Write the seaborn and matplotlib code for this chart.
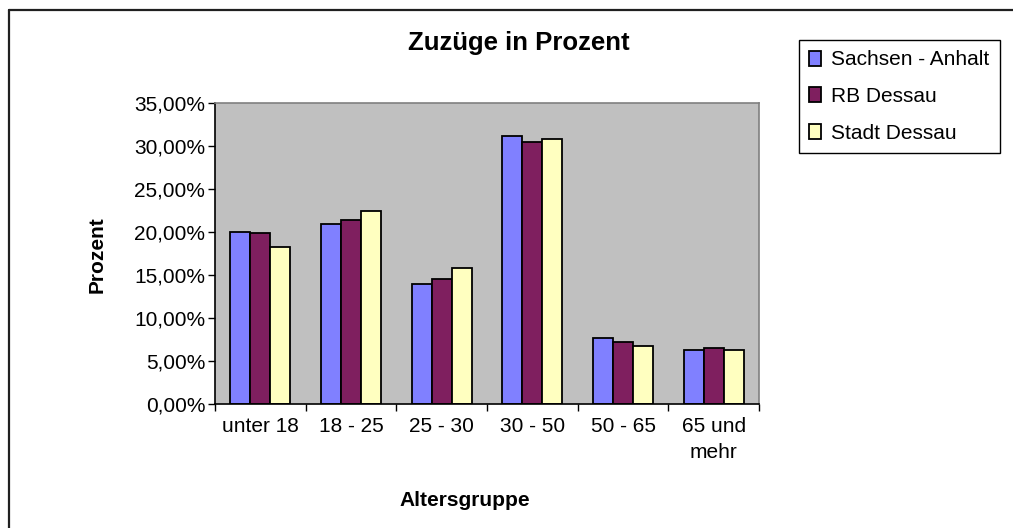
import matplotlib
matplotlib.use('Agg')
import matplotlib.pyplot as plt
import matplotlib.ticker as mticker
from matplotlib.lines import Line2D
import seaborn as sns
import pandas as pd
import numpy as np

# Daten: Zuzuege nach Altersgruppe (Prozent)
groups = ['unter 18', '18 - 25', '25 - 30', '30 - 50', '50 - 65', '65 und\nmehr']
series = ['Sachsen - Anhalt', 'RB Dessau', 'Stadt Dessau']
sachsen_anhalt = [20.0, 20.9, 14.0, 31.2, 7.7, 6.3]
rb_dessau = [19.9, 21.4, 14.5, 30.5, 7.2, 6.5]
stadt_dessau = [18.2, 22.5, 15.8, 30.8, 6.7, 6.3]
colors = ['#8080FF', '#7F1F5F', '#FFFFC0']

df = pd.DataFrame({
    'Altersgruppe': groups * 3,
    'Region': np.repeat(series, len(groups)),
    'Prozent': sachsen_anhalt + rb_dessau + stadt_dessau,
})

sns.set_style('white')
plt.rcParams['font.family'] = ['Liberation Sans', 'DejaVu Sans']
plt.rcParams['text.color'] = 'black'
plt.rcParams['axes.labelcolor'] = 'black'
plt.rcParams['xtick.color'] = 'black'
plt.rcParams['ytick.color'] = 'black'

fig = plt.figure(figsize=(10.13, 5.28), dpi=100)
ax = fig.add_axes([215 / 1013, 1 - 404 / 528, (759 - 215) / 1013, (404 - 103) / 528])
ax.set_facecolor('#C0C0C0')

sns.barplot(data=df, x='Altersgruppe', y='Prozent', hue='Region',
            palette=colors, width=0.66, edgecolor='black', linewidth=1.3,
            saturation=1, ax=ax)

ax.set_ylim(0, 35)
ax.set_xlim(-0.5, 5.5)
ax.yaxis.set_major_locator(mticker.MultipleLocator(5))
ax.yaxis.set_major_formatter(mticker.FuncFormatter(lambda v, p: f'{v:.2f}%'.replace('.', ',')))
ax.tick_params(axis='y', left=True, length=5, width=1, labelsize=15, pad=2,
               color='black', labelcolor='black')
ax.set_xticks(range(len(groups)))
ax.set_xticklabels(groups, linespacing=1.5)
ax.set_xticks(np.arange(-0.5, len(groups), 1), minor=True)
ax.tick_params(axis='x', which='major', length=0, labelsize=15, pad=9, labelcolor='black')
ax.tick_params(axis='x', which='minor', bottom=True, length=5, width=1, color='black')

for s in ['left', 'bottom']:
    ax.spines[s].set_color('black')
    ax.spines[s].set_linewidth(1.2)
for s in ['top', 'right']:
    ax.spines[s].set_color('#808080')
    ax.spines[s].set_linewidth(1.2)

ax.set_xlabel('')
ax.set_ylabel('')
fig.text(465 / 1013, 1 - 500 / 528, 'Altersgruppe', ha='center', va='center',
         fontsize=15, fontweight='bold', color='black')
fig.text(97 / 1013, 1 - 255 / 528, 'Prozent', ha='center', va='center',
         rotation=90, fontsize=15, fontweight='bold', color='black')
fig.text(519 / 1013, 1 - 43 / 528, 'Zuzüge in Prozent', ha='center', va='center',
         fontsize=18.5, fontweight='bold', color='black')

handles, labels = ax.get_legend_handles_labels()
leg = ax.legend(handles, labels, loc='upper left', bbox_to_anchor=(799 / 1013, 1 - 40 / 528),
                bbox_transform=fig.transFigure, borderaxespad=0, fontsize=15,
                frameon=True, fancybox=False, edgecolor='black', framealpha=1,
                handlelength=0.55, handleheight=0.75, handletextpad=0.5,
                labelspacing=0.85, borderpad=0.5)
leg.get_frame().set_linewidth(1.0)
for t in leg.get_texts():
    t.set_color('black')

# Rahmen um das Diagramm
fig.add_artist(Line2D([9 / 1013, 9 / 1013], [0, 1 - 10 / 528], color='#202020', lw=1.6))
fig.add_artist(Line2D([9 / 1013, 1], [1 - 10 / 528, 1 - 10 / 528], color='#202020', lw=1.6))

plt.savefig('out.png', dpi=100)
plt.close()
